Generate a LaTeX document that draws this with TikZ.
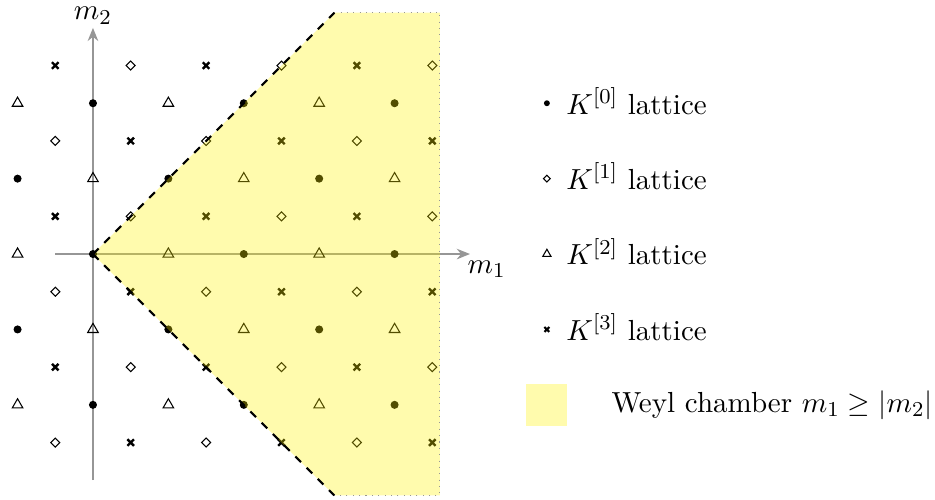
\documentclass[tikz,border=0pt,11pt]{standalone}
\usepackage{amsmath,amssymb}
\usepackage{tikz}
\usepackage{xcolor}
\usetikzlibrary{arrows.meta, plotmarks, positioning, calc}
\definecolor{AxisGray}{RGB}{150,150,150}

\begin{document}
\begin{tikzpicture}[
    axis/.style={-{Stealth[length=5pt,width=4pt]},AxisGray,line width=0.6pt},
    kzero/.style={only marks,mark=*,mark size=1.3pt},
    kone/.style={only marks,mark=diamond,mark size=1.7pt,mark options={xscale=1.333,line width=0.4pt}},
    ktwo/.style={only marks,mark=triangle,mark size=2.3pt,mark options={line width=0.4pt}},
    kthree/.style={only marks,mark=x,mark size=1.75pt,mark options={line width=0.9pt}},
    chamber/.style={fill=yellow,fill opacity=0.32},
    wall/.style={black,dashed,line width=0.8pt},
    rim/.style={AxisGray,dotted,line width=0.4pt},
    legtext/.style={anchor=west,inner sep=2pt}
  ]
    \useasboundingbox (-1.233,-3.249) rectangle (11.167,3.369);
    \coordinate (origin) at (0,0);
    \coordinate (xstart) at (-0.5,0);
    \coordinate (xend) at (5,0);
    \coordinate (ystart) at (0,-3);
    \coordinate (yend) at (0,3);
    \draw[axis] (xstart) -- (xend);
    \draw[axis] (ystart) -- (yend);
    \node (mone) at (5.22,-0.2) {$m_1$};
    \node (mtwo) at (0,3.16) {$m_2$};
    \foreach \i in {-2,...,9}{
      \foreach \j in {-5,...,5}{
        \pgfmathtruncatemacro{\pty}{Mod(\i+\j,2)}
        \ifnum\pty=0
          \pgfmathtruncatemacro{\kk}{Mod(\i+\j-Mod(\i,2),4)}
          \ifcase\kk
            \path[kzero] plot coordinates {({\i/2},{\j/2})};
          \or
            \path[kone] plot coordinates {({\i/2},{\j/2})};
          \or
            \path[ktwo] plot coordinates {({\i/2},{\j/2})};
          \or
            \path[kthree] plot coordinates {({\i/2},{\j/2})};
          \fi
        \fi
      }
    }
    \coordinate (topleft) at (3.2,3.2);
    \coordinate (topright) at (4.6,3.2);
    \coordinate (botright) at (4.6,-3.2);
    \coordinate (botleft) at (3.2,-3.2);
    \fill[chamber] (origin) -- (topleft) -- (topright) -- (botright) -- (botleft) -- cycle;
    \draw[rim] (topleft) -- (topright) -- (botright) -- (botleft);
    \draw[wall] (origin) -- (topleft);
    \draw[wall] (origin) -- (botleft);
    \path[kzero,mark size=0.9pt] plot coordinates {(6.02,2)};
    \path[kone,mark size=1.3pt] plot coordinates {(6.02,1)};
    \path[ktwo,mark size=1.8pt] plot coordinates {(6.02,0)};
    \path[kthree,mark size=1.3pt,mark options={line width=0.8pt}] plot coordinates {(6.02,-1)};
    \node[legtext] (lzero) at (6.2,2.03) {$K^{[0]}$ lattice};
    \node[legtext] (lone) at (6.2,1.03) {$K^{[1]}$ lattice};
    \node[legtext] (ltwo) at (6.2,0.03) {$K^{[2]}$ lattice};
    \node[legtext] (lthree) at (6.2,-0.97) {$K^{[3]}$ lattice};
    \node[chamber,minimum size=0.55cm,inner sep=0pt] (lchamber) at (6.015,-2) {};
    \node[legtext] (lweyl) at (6.8,-2) {Weyl chamber $m_1\geq|m_2|$};
  \end{tikzpicture}
\end{document}
